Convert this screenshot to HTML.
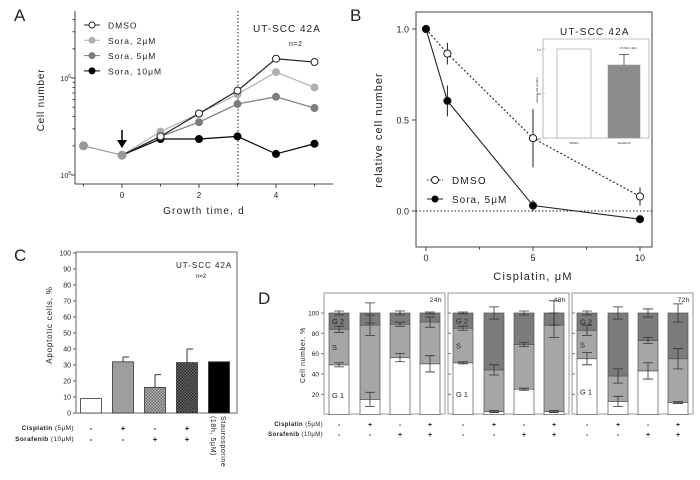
<!DOCTYPE html>
<html><head><meta charset="utf-8"><style>
body{margin:0;background:#fff}
svg{display:block;font-family:"Liberation Sans",sans-serif}
text{fill:#222}
</style></head><body>
<svg id="fig" width="700" height="480" viewBox="0 0 700 480" xmlns="http://www.w3.org/2000/svg">
<defs>
<pattern id="chk1" width="3" height="3" patternUnits="userSpaceOnUse"><rect width="3" height="3" fill="#b8b8b8"/><rect width="1.5" height="1.5" fill="#6a6a6a"/><rect x="1.5" y="1.5" width="1.5" height="1.5" fill="#6a6a6a"/></pattern>
<pattern id="chk2" width="3" height="3" patternUnits="userSpaceOnUse"><rect width="3" height="3" fill="#6a6a6a"/><rect width="1.5" height="1.5" fill="#2a2a2a"/><rect x="1.5" y="1.5" width="1.5" height="1.5" fill="#2a2a2a"/></pattern>
</defs>
<!-- Panel A static -->
<g>
<text x="14" y="21" font-size="17">A</text>
<line x1="75" y1="11" x2="75" y2="184" stroke="#444"/>
<line x1="75" y1="184" x2="333" y2="184" stroke="#444"/>
<text x="44" y="100" font-size="10" letter-spacing="0.8" text-anchor="middle" transform="rotate(-90 44 100)">Cell number</text>
<text x="204" y="214" font-size="10" letter-spacing="1.2" text-anchor="middle">Growth time, d</text>
<text x="71" y="81" font-size="7" text-anchor="end">10<tspan font-size="5" dy="-3">6</tspan></text>
<text x="71" y="178" font-size="7" text-anchor="end">10<tspan font-size="5" dy="-3">5</tspan></text>
<text x="253" y="32" font-size="10" letter-spacing="1">UT-SCC 42A</text>
<text x="289" y="46" font-size="7" letter-spacing="0.5">n=2</text>
<line x1="238" y1="11" x2="238" y2="184" stroke="#222" stroke-dasharray="1.5,2"/>
<g><line x1="122" y1="130" x2="122" y2="142" stroke="#000" stroke-width="1.5"/><polygon points="117,140 127,140 122,148" fill="#000"/></g>
</g>
<g id="gA"></g>
<!-- Panel B static -->
<g>
<text x="350" y="21" font-size="17">B</text>
<rect x="416" y="12" width="236" height="235" fill="none" stroke="#444"/>
<line x1="416" y1="211" x2="652" y2="211" stroke="#222" stroke-dasharray="1.5,2"/>
<text x="382" y="130" font-size="11" letter-spacing="1" text-anchor="middle" transform="rotate(-90 382 130)">relative cell number</text>
<text x="533" y="280" font-size="11" letter-spacing="1.2" text-anchor="middle">Cisplatin, μM</text>
<text x="560" y="35" font-size="10" letter-spacing="1.2">UT-SCC 42A</text>
<g>
<line x1="427" y1="180" x2="443" y2="180" stroke="#222" stroke-dasharray="1.5,1.5"/><circle cx="435" cy="180" r="3.5" fill="#fff" stroke="#222"/>
<text x="452" y="184" font-size="10" letter-spacing="1.2">DMSO</text>
<line x1="427" y1="199" x2="443" y2="199" stroke="#222"/><circle cx="435" cy="199" r="3.5" fill="#000"/>
<text x="452" y="203" font-size="10" letter-spacing="1">Sora, 5μM</text>
</g>
<g>
<line x1="543" y1="39" x2="543" y2="138" stroke="#888" stroke-width="0.6"/>
<line x1="543" y1="138" x2="649" y2="138" stroke="#888" stroke-width="0.6"/>
<line x1="649" y1="39" x2="649" y2="138" stroke="#888" stroke-width="0.6"/>
<line x1="543" y1="39" x2="649" y2="39" stroke="#888" stroke-width="0.6"/>
<text x="541" y="51" font-size="3" text-anchor="end">1.0</text>
<text x="541" y="95" font-size="3" text-anchor="end">0.5</text>
<text x="541" y="140" font-size="3" text-anchor="end">0.0</text>
<text x="538" y="90" font-size="3" text-anchor="middle" transform="rotate(-90 538 90)">relative cell number</text>
<text x="574" y="144" font-size="3" text-anchor="middle">DMSO</text>
<text x="624" y="144" font-size="3" text-anchor="middle">Sorafenib</text>
<text x="628" y="49" font-size="3" text-anchor="middle">UT-SCC 42A</text>
</g>
</g>
<g id="gB"></g>
<!-- Panel C static -->
<g>
<text x="14" y="261" font-size="17">C</text>
<rect x="76" y="252" width="161" height="161" fill="none" stroke="#666"/>
<text x="52" y="325" font-size="8" letter-spacing="0.8" text-anchor="middle" transform="rotate(-90 52 325)">Apoptotic cells, %</text>
<text x="176" y="268" font-size="8" letter-spacing="1">UT-SCC 42A</text>
<text x="196" y="278" font-size="6">n=2</text>
<text x="74" y="430" font-size="6.5" font-weight="bold" text-anchor="end" letter-spacing="0.4">Cisplatin <tspan font-weight="normal">(5μM)</tspan></text>
<text x="74" y="441" font-size="6.5" font-weight="bold" text-anchor="end" letter-spacing="0.4">Sorafenib <tspan font-weight="normal">(10μM)</tspan></text>
<text x="221" y="416" font-size="7" letter-spacing="0.6" transform="rotate(90 221 416)">Staurosporine</text>
<text x="211" y="416" font-size="7" letter-spacing="0.6" transform="rotate(90 211 416)">(18h, 5μM)</text>
</g>
<g id="gC"></g>
<!-- Panel D static -->
<g>
<text x="258" y="304" font-size="17">D</text>
<text x="305" y="355" font-size="7" letter-spacing="0.6" text-anchor="middle" transform="rotate(-90 305 355)">Cell number, %</text>
<text x="323" y="426" font-size="6" font-weight="bold" text-anchor="end" letter-spacing="0.4">Cisplatin <tspan font-weight="normal">(5μM)</tspan></text>
<text x="323" y="436" font-size="6" font-weight="bold" text-anchor="end" letter-spacing="0.4">Sorafenib <tspan font-weight="normal">(10μM)</tspan></text>
</g>
<g id="gD"></g>
</svg>
<script>
// ---------- Panel A data ----------
const aDays = [0, 1, 2, 3, 4, 5];
const aPreDays = [-1, 0];
const aPreVals = [200000, 160000];
const aDMSO = [160000, 250000, 430000, 740000, 1580000, 1460000];
const aSora2 = [160000, 280000, 430000, 680000, 1150000, 800000];
const aSora5 = [160000, 250000, 350000, 540000, 640000, 490000];
const aSora10 = [160000, 235000, 235000, 250000, 165000, 210000];
const aXTicks = [0, 2, 4];
// ---------- Panel B data ----------
const bConc = [0, 1, 5, 10];
const bDMSO = [1.0, 0.865, 0.40, 0.08];
const bDMSOErr = [0, 0.06, 0.16, 0.05];
const bSora = [1.0, 0.605, 0.03, -0.045];
const bSoraErr = [0, 0.085, 0.03, 0.01];
const bYTicks = [0.0, 0.5, 1.0];
const bXTicks = [0, 5, 10];
const bInsetVals = [1.0, 0.82];
const bInsetErr = [0, 0.12];
// ---------- Panel C data ----------
const cVals = [9, 32, 16, 31.5, 32];
const cErr = [0.3, 3, 8, 8.5, 0];
const cCis = ['-', '+', '-', '+'];
const cSor = ['-', '-', '+', '+'];
const cYTicks = [0,10,20,30,40,50,60,70,80,90,100];
// ---------- Panel D data ----------
const dTimes = ['24h', '48h', '72h'];
const dG1 = [[49,15,56,50],[51,3,25,3],[55,13,43,12]];
const dS = [[35,73,33,41],[34,41,44,85],[28,25,30,43]];
const dG1Err = [[2,7,4,8],[1,1,1,1],[6,5,8,1]];
const dSErr = [[3,10,2,5],[2,5,2,12],[5,7,3,10]];
const dTopErr = [[2,10,2,1],[1,6,2,12],[2,6,4,9]];
const dCis = ['-', '+', '-', '+'];
const dSor = ['-', '-', '+', '+'];
const dYTicks = [20, 40, 60, 80, 100];

const NS = 'http://www.w3.org/2000/svg';
function mk(parent, tag, attrs, txt) {
  const e = document.createElementNS(NS, tag);
  for (const k in attrs) e.setAttribute(k, attrs[k]);
  if (txt !== undefined) e.textContent = txt;
  parent.appendChild(e);
  return e;
}
let el;

// ---------- Panel A ----------
const gA = document.getElementById('gA');
const xA = d => 122 + d * 38.5;
const yA = v => 175 - (Math.log10(v) - 5) * 97;
for (let i = 2; i <= 40; i++) {
  const v = i <= 10 ? i * 1e5 : (i - 9) * 1e6;
  if (v > 4.8e6) break;
  const big = (v === 1e5 || v === 1e6);
  el = mk(gA, 'line', {x1: 75 - (big ? 4 : 2.5), x2: 75, y1: yA(v), y2: yA(v), stroke: '#444'});
  
  
}
el = mk(gA, 'line', {x1: 75 - 4, x2: 75, y1: yA(1e5), y2: yA(1e5), stroke: '#444'});


for (const t of aXTicks) {
  el = mk(gA, 'line', {x1: xA(t), x2: xA(t), y1: 184, y2: 188, stroke: '#444'});
  
  
  el = mk(gA, 'text', {x: xA(t), y: 198, 'font-size': 8, 'text-anchor': 'middle'}, String(t));
  
  
}
for (const t of [-1, 1, 3, 5]) {
  el = mk(gA, 'line', {x1: xA(t), x2: xA(t), y1: 184, y2: 186.5, stroke: '#444'});
  
  
}
const aSeries = [
  {name: 'dmso', vals: aDMSO, col: '#222', fill: '#fff', label: 'DMSO'},
  {name: 'sora-2um', vals: aSora2, col: '#b0b0b0', fill: '#b0b0b0', label: 'Sora, 2μM'},
  {name: 'sora-5um', vals: aSora5, col: '#7d7d7d', fill: '#7d7d7d', label: 'Sora, 5μM'},
  {name: 'sora-10um', vals: aSora10, col: '#000', fill: '#000', label: 'Sora, 10μM'}
];
// pre-treatment segment
el = mk(gA, 'polyline', {points: aPreDays.map((d, i) => xA(d) + ',' + yA(aPreVals[i])).join(' '), fill: 'none', stroke: '#999', 'stroke-width': 1.2});


for (let k = aSeries.length - 1; k >= 0; k--) {
  const s = aSeries[k];
  el = mk(gA, 'polyline', {points: aDays.map((d, i) => xA(d) + ',' + yA(s.vals[i])).join(' '), fill: 'none', stroke: s.col, 'stroke-width': 1.2});
  
  
  aDays.forEach((d, i) => {
    if (i === 0) return;
    el = mk(gA, 'circle', {cx: xA(d), cy: yA(s.vals[i]), r: 3.5, fill: s.fill, stroke: s.col, 'stroke-width': 1});
    
    
  });
}
aPreDays.forEach((d, i) => {
  el = mk(gA, 'circle', {cx: xA(d), cy: yA(aPreVals[i]), r: 4, fill: '#999', stroke: '#999'});
  
  
});
aSeries.forEach((s, k) => {
  const y = 25 + k * 15.3;
  el = mk(gA, 'line', {x1: 84, x2: 100, y1: y, y2: y, stroke: s.col});
  
  
  el = mk(gA, 'circle', {cx: 92, cy: y, r: 3, fill: s.fill, stroke: s.col});
  
  
  el = mk(gA, 'text', {x: 108, y: y + 3.5, 'font-size': 8.5, 'letter-spacing': 1}, s.label);
  
  
});

// ---------- Panel B ----------
const gB = document.getElementById('gB');
const xB = c => 426 + c * 21.4;
const yB = v => 211 - v * 182;
const yI = v => 138 - v * 89;
for (const t of bYTicks) {
  el = mk(gB, 'line', {x1: 412, x2: 416, y1: yB(t), y2: yB(t), stroke: '#444'});
  
  
  el = mk(gB, 'text', {x: 409, y: yB(t) + 3.5, 'font-size': 9, 'text-anchor': 'end'}, t.toFixed(1));
  
  
}
for (const t of bXTicks) {
  el = mk(gB, 'line', {x1: xB(t), x2: xB(t), y1: 247, y2: 251, stroke: '#444'});
  
  
  el = mk(gB, 'text', {x: xB(t), y: 261, 'font-size': 9, 'text-anchor': 'middle'}, String(t));
  
  
}
for (const t of [2.5, 7.5]) {
  el = mk(gB, 'line', {x1: xB(t), x2: xB(t), y1: 247, y2: 249.5, stroke: '#444'});
  
  
}
// inset bars
const insetX = [557, 608], insetW = [34, 32], insetFill = ['#fff', '#8c8c8c'];
bInsetVals.forEach((v, i) => {
  el = mk(gB, 'rect', {x: insetX[i], y: yI(v), width: insetW[i], height: yI(0) - yI(v), fill: insetFill[i], stroke: '#999', 'stroke-width': 0.6});
  
  
  if (bInsetErr[i] > 0) {
    const cx = insetX[i] + insetW[i] / 2;
    el = mk(gB, 'path', {d: `M${cx},${yI(v)}V${yI(v + bInsetErr[i])}M${cx - 5},${yI(v + bInsetErr[i])}H${cx + 5}`, stroke: '#444', fill: 'none', 'stroke-width': 0.8});
    
    
  }
});
[[1.0,49],[0.5,93],[0,138]].forEach(p => {
  el = mk(gB, 'line', {x1: 543, x2: 545, y1: yI(p[0]), y2: yI(p[0]), stroke: '#888', 'stroke-width': 0.5});
  
  
});
const bSeries = [
  {name: 'dmso', vals: bDMSO, err: bDMSOErr, fill: '#fff', dash: '2,2'},
  {name: 'sora-5um', vals: bSora, err: bSoraErr, fill: '#000', dash: ''}
];
bSeries.forEach(s => {
  el = mk(gB, 'polyline', {points: bConc.map((c, i) => xB(c) + ',' + yB(s.vals[i])).join(' '), fill: 'none', stroke: '#222', 'stroke-width': 1.1, 'stroke-dasharray': s.dash});
  
  
  bConc.forEach((c, i) => {
    if (s.err[i] > 0) {
      el = mk(gB, 'line', {x1: xB(c), x2: xB(c), y1: yB(s.vals[i] - s.err[i]), y2: yB(s.vals[i] + s.err[i]), stroke: '#222'});
      
      
    }
    el = mk(gB, 'circle', {cx: xB(c), cy: yB(s.vals[i]), r: 3.6, fill: s.fill, stroke: '#222'});
    
    
  });
});

// ---------- Panel C ----------
const gC = document.getElementById('gC');
const yC = v => 413 - v * 1.6;
const xC = i => 91 + i * 32;
for (const t of cYTicks) {
  el = mk(gC, 'line', {x1: 73, x2: 76, y1: yC(t), y2: yC(t), stroke: '#555'});
  
  
  el = mk(gC, 'text', {x: 71, y: yC(t) + 2.5, 'font-size': 7, 'text-anchor': 'end'}, String(t));
  
  
}
const cFill = ['#fff', '#9e9e9e', 'url(#chk1)', 'url(#chk2)', '#000'];
cVals.forEach((v, i) => {
  const cx = xC(i);
  el = mk(gC, 'rect', {x: cx - 10.5, y: yC(v), width: 21, height: yC(0) - yC(v), fill: cFill[i], stroke: '#333', 'stroke-width': 0.8});
  
  
  if (cErr[i] > 0.5) {
    el = mk(gC, 'path', {d: `M${cx},${yC(v)}V${yC(v + cErr[i])}M${cx},${yC(v + cErr[i])}H${cx + 6}`, stroke: '#333', fill: 'none'});
    
    
  }
});
cCis.forEach((s, i) => {
  el = mk(gC, 'text', {x: xC(i), y: 431, 'font-size': 8, 'text-anchor': 'middle', 'font-weight': 'bold'}, s);
  
  
  el = mk(gC, 'text', {x: xC(i), y: 442, 'font-size': 8, 'text-anchor': 'middle', 'font-weight': 'bold'}, cSor[i]);
  
  
});

// ---------- Panel D ----------
const gD = document.getElementById('gD');
const yD = v => 414.6 - v * 1.016;
const boxL = [324, 448, 572], boxW = 121;
const barOff = [15, 46, 76, 106];
dTimes.forEach((t, b) => {
  el = mk(gD, 'rect', {x: boxL[b], y: 293, width: boxW, height: 121, fill: 'none', stroke: '#9a9a9a', 'stroke-width': 1});
  
  
  el = mk(gD, 'text', {x: boxL[b] + boxW - 3, y: 302, 'font-size': 6.5, 'text-anchor': 'end', 'letter-spacing': 0.5}, t);
  
  
  for (const yt of dYTicks) {
    el = mk(gD, 'line', {x1: boxL[b] - (b ? 0 : 3), x2: boxL[b] + (b ? 3 : 0), y1: yD(yt), y2: yD(yt), stroke: '#777'});
    
    
    if (b === 0) {
      el = mk(gD, 'text', {x: 319, y: yD(yt) + 2.5, 'font-size': 6.5, 'text-anchor': 'end'}, String(yt));
      
      
    }
  }
  dG1[b].forEach((g1, i) => {
    const cx = boxL[b] + barOff[i];
    const s = g1 + dS[b][i];
    const segs = [[0, g1, '#fff', 'g1'], [g1, s, '#a6a6a6', 's'], [s, 100, '#7b7b7b', 'g2']];
    segs.forEach(sg => {
      el = mk(gD, 'rect', {x: cx - 10, y: yD(sg[1]), width: 20, height: yD(sg[0]) - yD(sg[1]), fill: sg[2], stroke: '#555', 'stroke-width': 0.7});
      
      
    });
    [[g1, dG1Err[b][i]], [s, dSErr[b][i]], [100, dTopErr[b][i]]].forEach(e => {
      const y1 = yD(e[0] - e[1]), y2 = yD(Math.min(e[0] + e[1], 112));
      el = mk(gD, 'path', {d: `M${cx},${y1}V${y2}M${cx - 5},${y1}H${cx + 5}M${cx - 5},${y2}H${cx + 5}`, stroke: '#333', fill: 'none', 'stroke-width': 0.8});
      
      
    });
    el = mk(gD, 'text', {x: cx, y: 427, 'font-size': 7, 'text-anchor': 'middle', 'font-weight': 'bold'}, dCis[i]);
    
    
    el = mk(gD, 'text', {x: cx, y: 437, 'font-size': 7, 'text-anchor': 'middle', 'font-weight': 'bold'}, dSor[i]);
    
    
  });
  const cx0 = boxL[b] + barOff[0];
  const g1v = dG1[b][0], sv = g1v + dS[b][0];
  [['G 1', g1v / 2 - 5], ['S', (g1v + sv) / 2], ['G 2', (sv + 100) / 2]].forEach(l => {
    el = mk(gD, 'text', {x: cx0 - 7, y: yD(l[1]) + 3, 'font-size': 7.5}, l[0]);
    
    
  });
});
</script>
</body></html>
